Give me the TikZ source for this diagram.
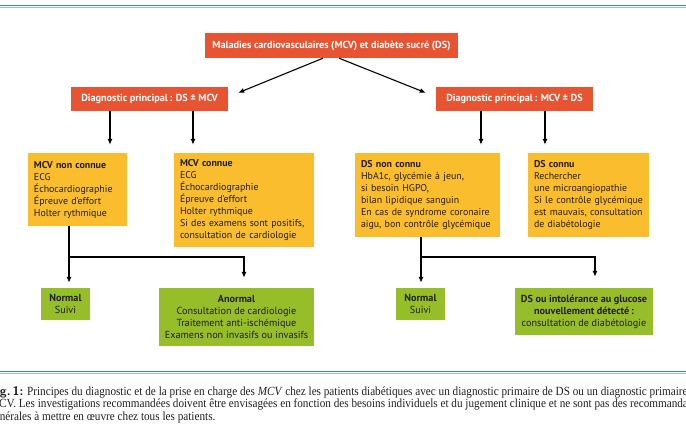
\documentclass[tikz,border=0pt]{standalone}
\usepackage{fontspec}
\setmainfont{PT Sans}
\newfontfamily\capfont{Liberation Serif}[FakeStretch=0.9]
\usetikzlibrary{arrows.meta}

\definecolor{mcvred}{RGB}{232,84,50}
\definecolor{mcvyellow}{RGB}{250,189,45}
\definecolor{mcvgreen}{RGB}{150,190,40}
\definecolor{ruledark}{RGB}{60,130,196}
\definecolor{rulelight}{RGB}{150,192,230}
\definecolor{txt}{RGB}{35,31,32}
\newcommand{\nohyph}{\hyphenpenalty=10000\relax}

\begin{document}
\begin{tikzpicture}[x=1pt,y=-1pt]
    \tikzstyle{every node}+=[inner sep=0pt, text=txt, font=\fontsize{10.2}{12}\selectfont]
    \tikzstyle{redbox}=[fill=mcvred, text=white, font=\bfseries\fontsize{10.2}{12}\selectfont]
    \tikzstyle{yelbox}=[fill=mcvyellow, align=left, inner xsep=6pt, font=\fontsize{9.9}{12}\selectfont\nohyph]
    \tikzstyle{grnbox}=[fill=mcvgreen, align=center]
    \tikzstyle{arr}=[-{Latex[length=6pt,width=5pt]}, line width=1.1pt]
    \tikzstyle{link}=[line width=1.1pt]
    \useasboundingbox (0,0) rectangle (686,430);
    \clip (0,0) rectangle (686,430);

    % rules
    \draw[ruledark, line width=1.6pt] (0,5.5) -- (686,5.5);
    \draw[rulelight, line width=1.2pt] (0,7.3) -- (686,7.3);
    \draw[ruledark, line width=1.6pt] (0,371.5) -- (686,371.5);
    \draw[rulelight, line width=1.2pt] (0,373.3) -- (686,373.3);

    % boxes
    \node[redbox, minimum width=253pt, minimum height=25pt] (top)  at (331.5,45.5) {Maladies cardiovasculaires (MCV) et diabète sucré (DS)};
    \node[redbox, minimum width=157pt, minimum height=24pt] (dsl)  at (149.5,99)   {Diagnostic principal\,: DS ± MCV};
    \node[redbox, minimum width=157pt, minimum height=24pt] (mcvl) at (514.5,99)   {Diagnostic principal\,: MCV ± DS};

    \node[yelbox, text width=87pt,  minimum height=73pt] (mcvno)  at (77.5,189.5) {\textbf{MCV non connue}\\ECG\\Échocardiographie\\Épreuve d’effort\\Holter rythmique};
    \node[yelbox, text width=128pt, minimum height=94pt] (mcvyes) at (244,200)    {\textbf{MCV connue}\\ECG\\Échocardiographie\\Épreuve d’effort\\Holter rythmique\\Si des examens sont positifs,\\consultation de cardiologie};
    \node[yelbox, text width=133pt, minimum height=84pt] (dsno)   at (427.5,195)  {\textbf{DS non connu}\\HbA1c, glycémie à jeun,\\si besoin HGPO,\\bilan lipidique sanguin\\En cas de syndrome coronaire\\aigu, bon contrôle glycémique};
    \node[yelbox, text width=109pt, minimum height=84pt] (dsyes)  at (588.5,195)  {\textbf{DS connu}\\Rechercher\\une microangiopathie\\Si le contrôle glycémique\\est mauvais, consultation\\de diabétologie};

    \node[grnbox, minimum width=49pt,  minimum height=32pt] (normL) at (65.5,304)  {\textbf{Normal}\\Suivi};
    \node[grnbox, minimum width=155pt, minimum height=58pt] (anorm) at (236.5,317) {\textbf{Anormal}\\Consultation de cardiologie\\Traitement anti-ischémique\\Examens non invasifs ou invasifs};
    \node[grnbox, minimum width=49pt,  minimum height=32pt] (normR) at (420.5,304) {\textbf{Normal}\\Suivi};
    \node[grnbox, minimum width=138pt, minimum height=47pt] (dsnew) at (584,311.5) {\textbf{DS ou intolérance au glucose}\\\textbf{nouvellement détecté\,:}\\consultation de diabétologie};

    % arrows
    \draw[arr] ([xshift=-8.5pt]top.south) -- ([xshift=10pt,yshift=-6pt]dsl.north east);
    \draw[arr] ([xshift=7.5pt]top.south)  -- ([xshift=-10pt,yshift=-6pt]mcvl.north west);
    \draw[arr] ([xshift=-39.5pt]dsl.south) -- ([xshift=32.5pt,yshift=8pt]mcvno.north);
    \draw[arr] ([xshift=43.5pt]dsl.south)  -- ([xshift=-51pt,yshift=8pt]mcvyes.north);
    \draw[arr] ([xshift=-33.5pt]mcvl.south) -- ([xshift=53.5pt,yshift=8pt]dsno.north);
    \draw[arr] ([xshift=30.5pt]mcvl.south)  -- ([xshift=-43.5pt,yshift=8pt]dsyes.north);

    \coordinate (forkL) at (69,257);
    \coordinate (forkR) at (421,257);
    \draw[link] ([xshift=-8.5pt]mcvno.south) -- (forkL);
    \draw[arr] (forkL) -- ([xshift=3.5pt,yshift=5pt]normL.north);
    \draw[arr] (forkL) -| ([xshift=7.5pt,yshift=10pt]anorm.north);
    \draw[link] ([xshift=-6.5pt]dsno.south) -- (forkR);
    \draw[arr] (forkR) -- ([xshift=0.5pt,yshift=5pt]normR.north);
    \draw[arr] (forkR) -| ([xshift=11pt,yshift=11pt]dsnew.north);

    % caption
    \node[anchor=north west, align=left, font=\capfont\fontsize{12.45}{12.5}\selectfont] (caption) at (-11,386)
      {{\sffamily\bfseries Fig.\,1:} Principes du diagnostic et de la prise en charge des \textit{MCV} chez les patients diabétiques avec un diagnostic primaire de DS ou un diagnostic primaire de\\
       MCV. Les investigations recommandées doivent être envisagées en fonction des besoins individuels et du jugement clinique et ne sont pas des recommandations\\
       générales à mettre en œuvre chez tous les patients.};
\end{tikzpicture}
\end{document}
